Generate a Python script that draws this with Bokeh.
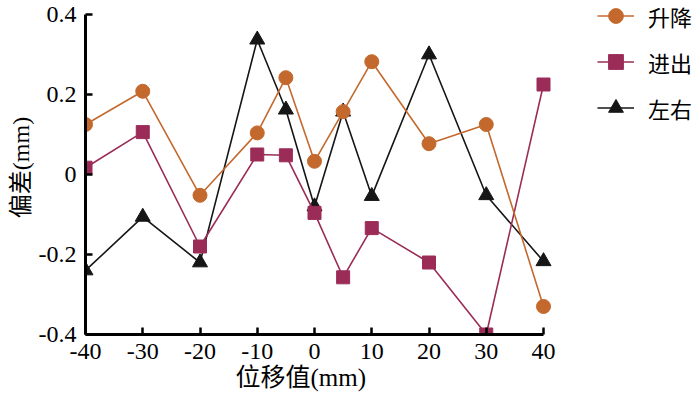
from bokeh.plotting import figure
from bokeh.models import Range1d, FixedTicker, Legend, LegendItem, Title
from bokeh.embed import file_html
from bokeh.resources import INLINE

# ---- data ----
x_vals = [-40, -30, -20, -10, -5, 0, 5, 10, 20, 30, 40]
lift = [0.125, 0.208, -0.052, 0.104, 0.242, 0.033, 0.157, 0.282, 0.077, 0.125, -0.33]
in_out = [0.017, 0.106, -0.18, 0.05, 0.048, -0.096, -0.257, -0.134, -0.22, -0.40, 0.225]
left_right = [-0.24, -0.106, -0.22, 0.337, 0.162, -0.08, 0.157, -0.054, 0.30, -0.052, -0.217]

series_names = ["升降", "进出", "左右"]
x_ticks = [-40, -30, -20, -10, 0, 10, 20, 30, 40]
x_tick_labels = ["-40", "-30", "-20", "-10", "0", "10", "20", "30", "40"]
y_ticks = [-0.4, -0.2, 0, 0.2, 0.4]
y_tick_labels = ["-0.4", "-0.2", "0", "0.2", "0.4"]
x_label = "位移值(mm)"
y_label = "偏差(mm)"

FONT = "'Liberation Serif', 'Noto Sans CJK SC', serif"
ORANGE = "#C4692E"
CRIMSON = "#9B2C58"
BLACK = "#161616"

# layout (canvas pixels): frame runs to the right/top canvas edge so the
# legend area lies inside it; axis lines are limited with `bounds`
LEFT, X40_PX, TOP_TICK_PX, BOTTOM = 85, 543, 14, 334
X_MIN, X_MAX = -40, 40
Y_MIN, Y_MAX = -0.4, 0.4
px_per_x = (X40_PX - LEFT) / (X_MAX - X_MIN)
px_per_y = (BOTTOM - TOP_TICK_PX) / (Y_MAX - Y_MIN)
x_end = X_MIN + (700 - LEFT) / px_per_x
y_end = Y_MAX + TOP_TICK_PX / px_per_y

p = figure(width=700, height=399, output_backend="svg", toolbar_location=None,
           x_range=Range1d(X_MIN, x_end), y_range=Range1d(Y_MIN, y_end),
           min_border_left=LEFT, min_border_right=0, min_border_top=0,
           min_border_bottom=399 - BOTTOM)
p.outline_line_color = None
p.xgrid.visible = False
p.ygrid.visible = False
p.background_fill_color = "white"
p.border_fill_color = "white"

# series (black first, then crimson, then orange on top)
l3 = p.line(x_vals, left_right, line_color=BLACK, line_width=1.6)
s3 = p.scatter(x_vals, left_right, marker="triangle", size=15, fill_color=BLACK, line_color=BLACK)
l2 = p.line(x_vals, in_out, line_color=CRIMSON, line_width=1.6)
s2 = p.scatter(x_vals, in_out, marker="square", size=13, fill_color=CRIMSON, line_color=CRIMSON)
l1 = p.line(x_vals, lift, line_color=ORANGE, line_width=1.6)
s1 = p.scatter(x_vals, lift, marker="circle", size=14, fill_color=ORANGE, line_color=ORANGE)

for ax in (p.xaxis[0], p.yaxis[0]):
    ax.axis_line_width = 3
    ax.axis_line_color = "black"
    ax.major_tick_line_width = 2.5
    ax.major_tick_line_color = "black"
    ax.major_tick_in = 7
    ax.major_tick_out = 0
    ax.minor_tick_line_color = None
    ax.major_label_text_font = FONT
    ax.major_label_text_font_size = "24px"
    ax.major_label_text_color = "black"
    ax.axis_label_text_font = FONT
    ax.axis_label_text_font_size = "24px"
    ax.axis_label_text_font_style = "normal"
    ax.axis_label_text_color = "black"

p.xaxis.bounds = (X_MIN, X_MAX)
p.yaxis.bounds = (Y_MIN, Y_MAX)
p.xaxis.ticker = FixedTicker(ticks=x_ticks)
p.yaxis.ticker = FixedTicker(ticks=y_ticks)
p.xaxis.major_label_overrides = {v: s for v, s in zip(x_ticks, x_tick_labels)}
p.yaxis.major_label_overrides = {v: s for v, s in zip(y_ticks, y_tick_labels)}
p.yaxis.axis_label = y_label
p.xaxis.major_label_standoff = 9
p.yaxis.major_label_standoff = 9
p.yaxis.axis_label_standoff = 2

# x-axis title placed under the data span (not the full frame)
xt = Title(text=x_label, align="left", offset=150, standoff=0,
           text_font=FONT, text_font_size="25px", text_font_style="normal", text_color="black")
p.add_layout(xt, "below")

legend = Legend(items=[
    LegendItem(label=series_names[0], renderers=[l1, s1]),
    LegendItem(label=series_names[1], renderers=[l2, s2]),
    LegendItem(label=series_names[2], renderers=[l3, s3]),
], location=(597 - LEFT, BOTTOM - 126))
legend.border_line_color = None
legend.background_fill_alpha = 0
legend.padding = 0
legend.margin = 0
legend.glyph_width = 37
legend.glyph_height = 37
legend.label_height = 37
legend.spacing = 9
legend.label_standoff = 14
legend.label_text_font = FONT
legend.label_text_font_size = "22px"
legend.label_text_color = "black"
p.add_layout(legend, "center")

open("out.html", "w").write(file_html(p, INLINE))
